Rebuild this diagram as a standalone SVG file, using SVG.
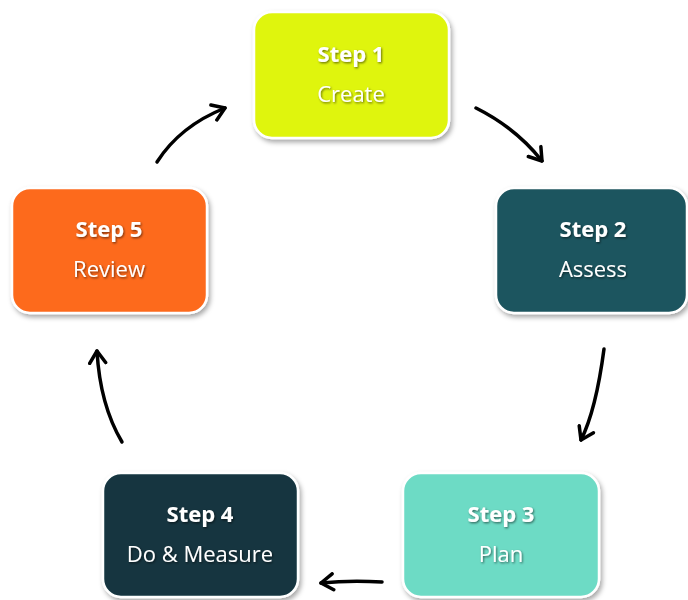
<svg xmlns="http://www.w3.org/2000/svg" width="688" height="600" viewBox="0 0 688 600">
  <defs>
    <filter id="boxShadow" x="-10%" y="-10%" width="125%" height="130%">
      <feDropShadow dx="2" dy="3" stdDeviation="2.5" flood-color="#000" flood-opacity="0.35"/>
    </filter>
    <filter id="textShadow" x="-10%" y="-20%" width="130%" height="160%">
      <feDropShadow dx="1" dy="1.2" stdDeviation="0.8" flood-color="#000" flood-opacity="0.55"/>
    </filter>
    <marker id="arrow" viewBox="-14 -10 18 20" markerWidth="18" markerHeight="20" refX="0" refY="0" orient="auto" markerUnits="userSpaceOnUse">
      <path d="M-12,-8 L0,0 L-12,8" fill="none" stroke="#000" stroke-width="3.5" stroke-linecap="round" stroke-linejoin="round"/>
    </marker>
  </defs>
  <style>
    .box { stroke: #ffffff; stroke-width: 2.5; filter: url(#boxShadow); }
    .t { font-family: "Open Sans", "Liberation Sans", sans-serif; font-size: 22px; fill: #ffffff; text-anchor: middle; filter: url(#textShadow); }
    .b { font-weight: bold; }
    .conn path { fill: none; stroke: #000; stroke-width: 3.5; stroke-linecap: round; marker-end: url(#arrow); }
  </style>
  <rect width="688" height="600" fill="#ffffff"/>

  <g id="step1">
    <rect class="box" x="254" y="12" width="195" height="126" rx="18" fill="#dff511"/>
    <text class="t b" x="351" y="62">Step 1</text>
    <text class="t" x="351" y="102">Create</text>
  </g>
  <g id="step2">
    <rect class="box" x="496" y="188" width="191" height="125" rx="18" fill="#1f555e"/>
    <text class="t b" x="593" y="237">Step 2</text>
    <text class="t" x="593" y="277">Assess</text>
  </g>
  <g id="step3">
    <rect class="box" x="403" y="473" width="196" height="124" rx="18" fill="#6ddbc5"/>
    <text class="t b" x="501" y="522">Step 3</text>
    <text class="t" x="501" y="562">Plan</text>
  </g>
  <g id="step4">
    <rect class="box" x="103" y="473" width="195" height="124" rx="18" fill="#123640"/>
    <text class="t b" x="200" y="522">Step 4</text>
    <text class="t" x="200" y="562">Do &amp; Measure</text>
  </g>
  <g id="step5">
    <rect class="box" x="12" y="188" width="195" height="125" rx="18" fill="#fd6a1e"/>
    <text class="t b" x="109" y="237">Step 5</text>
    <text class="t" x="109" y="277">Review</text>
  </g>

  <g id="connectors" class="conn">
    <path d="M476,108 Q516,128 542,161"/>
    <path d="M604,349 Q596,410 581,440"/>
    <path d="M382,582 Q350,580 321,583"/>
    <path d="M122,442 Q100,405 97,351"/>
    <path d="M157,162 Q180,126 225,108"/>
  </g>
</svg>
